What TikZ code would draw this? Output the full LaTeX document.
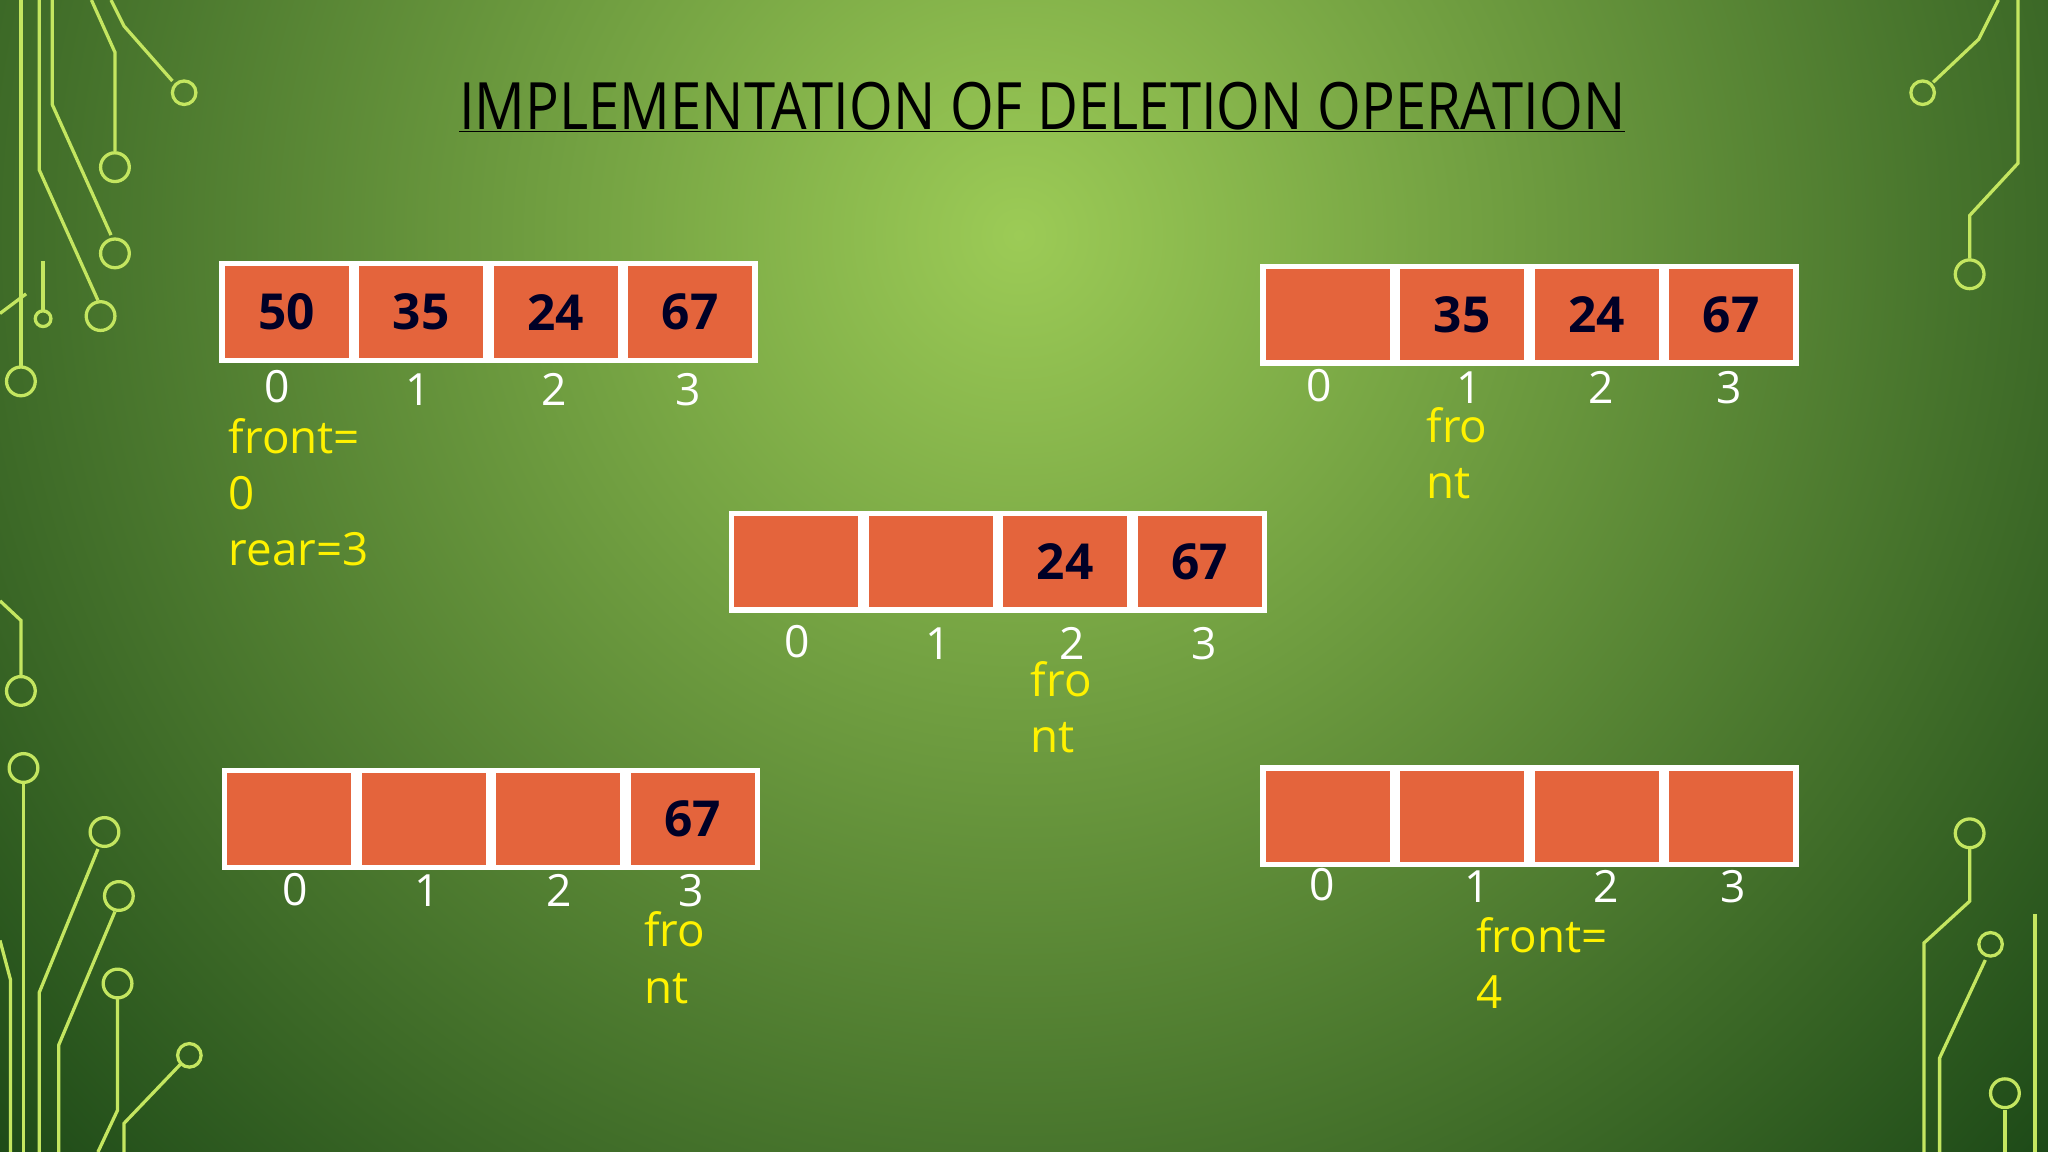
\documentclass[tikz,border=0pt]{standalone}
\usepackage{fontspec}
\setmainfont{Open Sans}
\begin{document}
\begin{tikzpicture}[x=1pt,y=-1pt,
  cell/.style={draw=white,line width=4pt,fill=cellred,minimum width=99pt,minimum height=74pt,inner sep=0pt,anchor=north west,font=\fontsize{38}{38}\selectfont\bfseries,text=black!85!blue},
  idx/.style={text=white,font=\fontsize{34}{34}\selectfont,inner sep=0pt},
  ylab/.style={text=yellow,font=\fontsize{35}{43}\selectfont,inner sep=0pt,anchor=north west,align=left},
  circ/.style={draw=circc,line width=2.5pt}]
\definecolor{cellred}{HTML}{E4643C}
\definecolor{lg}{HTML}{9CCB56}
\definecolor{dg}{HTML}{123E12}
\definecolor{circc}{HTML}{C4E660}
\useasboundingbox (0,0) rectangle (1568,882);
\clip (0,0) rectangle (1568,882);
\shade[inner color=lg,outer color=dg] (780,180) circle (1150);
% circuit decor
\begin{scope}[circ]
\draw (16,0)--(16,280); \draw (16,292) circle (11);
\draw (30,0)--(30,130)--(75,230); \draw (77,242) circle (11);
\draw (40,0)--(40,80)--(85,180); \draw (88,194) circle (11);
\draw (70,0)--(88,40)--(88,116); \draw (88,128) circle (11);
\draw (85,0)--(95,20)--(132,62); \draw (141,71) circle (9);
\draw (0,240)--(20,225); \draw (33,200)--(33,238); \draw (33,244) circle (6);
\draw (0,460)--(16,475)--(16,517); \draw (16,529) circle (11);
\draw (18,600)--(18,882); \draw (18,588) circle (11);
\draw (30,882)--(30,760)--(75,650); \draw (80,637) circle (11);
\draw (45,882)--(45,800)--(88,698); \draw (91,686) circle (11);
\draw (75,882)--(90,850)--(90,765); \draw (90,753) circle (11);
\draw (95,882)--(95,860)--(138,815); \draw (145,808) circle (9);
\draw (0,720)--(8,750)--(8,882);
\draw (1530,0)--(1515,30)--(1480,63); \draw (1472,71) circle (9);
\draw (1545,0)--(1545,125)--(1508,165)--(1508,198); \draw (1508,210) circle (11);
\draw (1508,650)--(1508,690)--(1473,722)--(1473,882); \draw (1508,638) circle (11);
\draw (1520,735)--(1485,810)--(1485,882); \draw (1524,723) circle (9);
\draw (1535,850)--(1535,882); \draw (1535,837) circle (11);
\draw (1558,700)--(1558,882);
\end{scope}
% title
\node[inner sep=0pt,font=\fontsize{50}{50}\selectfont,xscale=0.86] (title) at (798,82) {\underline{IMPLEMENTATION OF DELETION OPERATION}};
% array 1
\node[cell] (a0) at (168,200) {50};
\node[cell] (a1) at (a0.north east) {35};
\node[cell] (a2) at (a1.north east) {24};
\node[cell] (a3) at (a2.north east) {67};
\node[idx] (ai0) at (212,296) {0}; \node[idx] (ai1) at (320,298) {1};
\node[idx] (ai2) at (424,298) {2}; \node[idx] (ai3) at (527,298) {3};
\node[ylab] (al) at (175,320) {front=\\0\\rear=3};
% array 2
\node[cell] (b0) at (965,202) {};
\node[cell] (b1) at (b0.north east) {35};
\node[cell] (b2) at (b1.north east) {24};
\node[cell] (b3) at (b2.north east) {67};
\node[idx] (bi0) at (1010,295) {0}; \node[idx] (bi1) at (1125,297) {1};
\node[idx] (bi2) at (1226,297) {2}; \node[idx] (bi3) at (1324,297) {3};
\node[ylab] (bl) at (1092,312) {fro\\nt};
% array 3
\node[cell] (c0) at (558,391) {};
\node[cell] (c1) at (c0.north east) {};
\node[cell] (c2) at (c1.north east) {24};
\node[cell] (c3) at (c2.north east) {67};
\node[idx] (ci0) at (610,491) {0}; \node[idx] (ci1) at (718,493) {1};
\node[idx] (ci2) at (821,493) {2}; \node[idx] (ci3) at (922,493) {3};
\node[ylab] (cl) at (789,506) {fro\\nt};
% array 4
\node[cell] (d0) at (170,588) {};
\node[cell] (d1) at (d0.north east) {};
\node[cell] (d2) at (d1.north east) {};
\node[cell] (d3) at (d2.north east) {67};
\node[idx] (di0) at (226,681) {0}; \node[idx] (di1) at (327,682) {1};
\node[idx] (di2) at (428,682) {2}; \node[idx] (di3) at (529,682) {3};
\node[ylab] (dl) at (493,698) {fro\\nt};
% array 5
\node[cell] (e0) at (965,586) {};
\node[cell] (e1) at (e0.north east) {};
\node[cell] (e2) at (e1.north east) {};
\node[cell] (e3) at (e2.north east) {};
\node[idx] (ei0) at (1012,677) {0}; \node[idx] (ei1) at (1131,679) {1};
\node[idx] (ei2) at (1230,679) {2}; \node[idx] (ei3) at (1327,679) {3};
\node[ylab] (el) at (1130,702) {front=\\4};
\end{tikzpicture}
\end{document}
